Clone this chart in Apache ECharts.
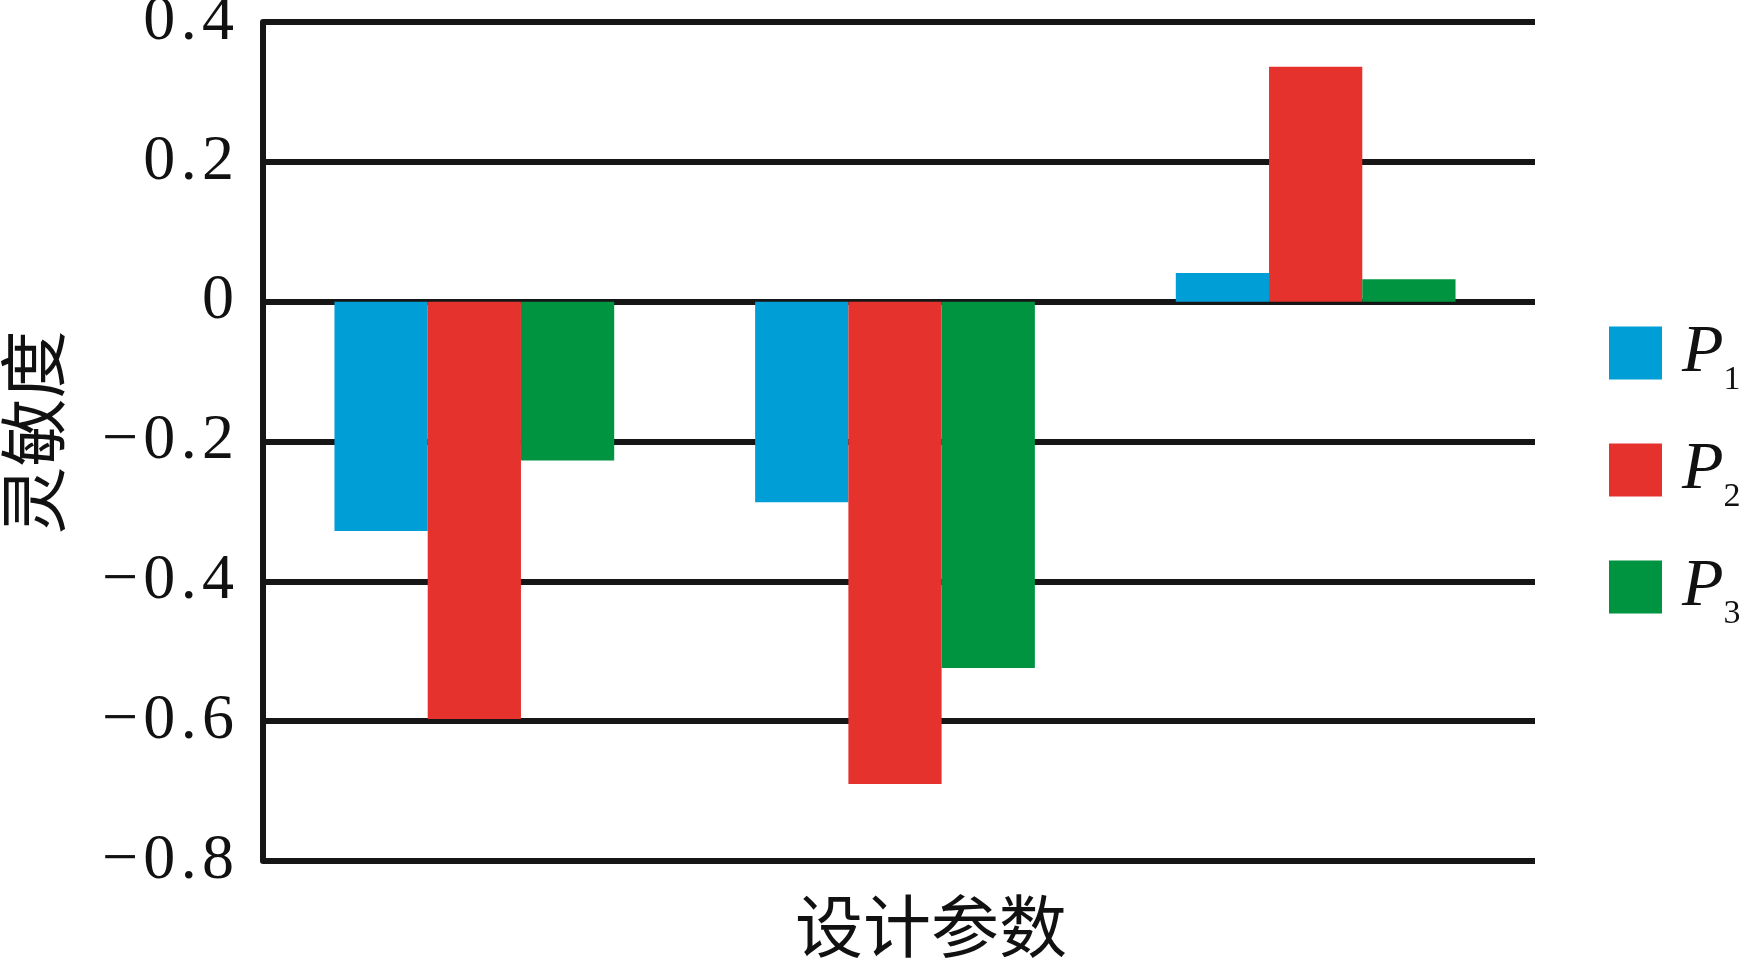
<!DOCTYPE html>
<html>
<head>
<meta charset="utf-8">
<script src="https://cdn.jsdelivr.net/npm/echarts@6/dist/echarts.min.js"></script>
<style>
  html, body { margin: 0; padding: 0; background: #ffffff; }
  #chart { width: 1739px; height: 963px; }
</style>
</head>
<body>
<div id="chart"></div>
<script>
// ---- data ----
const categories = ['A', 'B', 'C'];
const seriesNames = ['P1', 'P2', 'P3'];
const p1Values = [-0.328, -0.287, 0.041];
const p2Values = [-0.597, -0.690, 0.336];
const p3Values = [-0.227, -0.524, 0.032];
const yTicks = [-0.8, -0.6, -0.4, -0.2, 0, 0.2, 0.4];
const xAxisName = '设计参数';
const yAxisName = '灵敏度';

const colors = ['#009ED6', '#E5322D', '#009441'];
const HS = '\u200A';

function fmtTick(v) {
  const r = Math.round(v * 10) / 10;
  if (r === 0) return '0';
  const s = (r < 0 ? '\u2212' : '') + Math.abs(r).toFixed(1);
  return s.split('').join(HS);
}

const chart = echarts.init(document.getElementById('chart'), null, { renderer: 'canvas' });

const yMin = yTicks[0];
const yMax = yTicks[yTicks.length - 1];

const option = {
  backgroundColor: '#ffffff',
  animation: false,
  color: colors,
  grid: [
    { left: 263, right: 204, top: 22, bottom: 102, containLabel: false, outerBoundsMode: 'none' },
    { left: 264, right: 213, top: 22, bottom: 102, containLabel: false, outerBoundsMode: 'none' }
  ],
  legend: {
    orient: 'vertical',
    left: 1604,
    top: 314,
    itemWidth: 53,
    itemHeight: 53,
    itemGap: 39,
    icon: 'rect',
    data: seriesNames,
    formatter: function (name) { return '{p|P}{s|' + name.slice(1) + '}'; },
    textStyle: {
      rich: {
        p: { fontFamily: 'Liberation Serif', fontStyle: 'italic', fontSize: 68, color: '#111', lineHeight: 82, verticalAlign: 'middle', padding: [0, 0, 0, 15] },
        s: { fontFamily: 'Liberation Serif', fontSize: 34, color: '#111', verticalAlign: 'middle', padding: [54, 0, 0, 0] }
      }
    }
  },
  xAxis: [
    {
      type: 'category',
      gridIndex: 0,
      data: categories,
      position: 'bottom',
      axisLine: { show: false, onZero: false },
      axisTick: { show: false },
      axisLabel: { show: false },
      splitLine: { show: false },
      name: xAxisName,
      nameLocation: 'middle',
      nameGap: 31,
      nameTextStyle: { fontFamily: 'Noto Sans CJK SC', fontSize: 68, color: '#111', padding: [0, 0, 0, 64] }
    },
    {
      type: 'category',
      gridIndex: 1,
      data: categories,
      show: false
    }
  ],
  yAxis: [
    {
      type: 'value',
      gridIndex: 0,
      min: yMin,
      max: yMax,
      interval: 0.2,
      axisLine: { show: true, onZero: false, lineStyle: { color: '#161616', width: 6 } },
      axisTick: { show: false },
      axisLabel: {
        formatter: fmtTick,
        fontFamily: 'Liberation Serif',
        fontSize: 64,
        color: '#111',
        margin: 29
      },
      splitLine: { show: true, lineStyle: { color: '#161616', width: 6 } },
      name: yAxisName,
      nameLocation: 'middle',
      nameRotate: 90,
      nameGap: 196,
      nameTextStyle: { fontFamily: 'Noto Sans CJK SC', fontSize: 68, color: '#111', padding: [0, 0, 0, 18] }
    },
    {
      type: 'value',
      gridIndex: 1,
      min: yMin,
      max: yMax,
      interval: 0.2,
      show: false,
      splitLine: { show: false }
    }
  ],
  series: [
    { name: seriesNames[0], type: 'bar', xAxisIndex: 1, yAxisIndex: 1, data: p1Values, barGap: '0%', barCategoryGap: '33.5%', itemStyle: { color: colors[0] } },
    { name: seriesNames[1], type: 'bar', xAxisIndex: 1, yAxisIndex: 1, data: p2Values, barGap: '0%', barCategoryGap: '33.5%', itemStyle: { color: colors[1] } },
    { name: seriesNames[2], type: 'bar', xAxisIndex: 1, yAxisIndex: 1, data: p3Values, barGap: '0%', barCategoryGap: '33.5%', itemStyle: { color: colors[2] } }
  ]
};

chart.setOption(option);
</script>
</body>
</html>
